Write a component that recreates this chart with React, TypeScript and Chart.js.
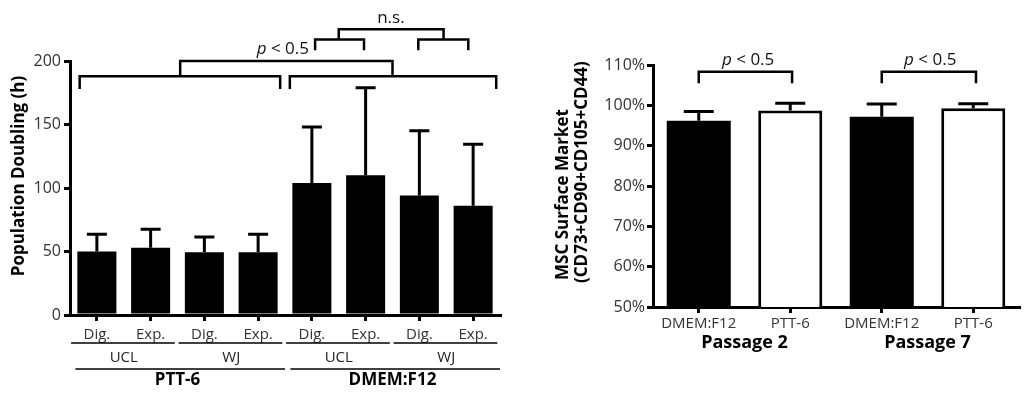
import React, { useEffect, useRef } from "react";
import { Chart, registerables } from "chart.js";

Chart.register(...registerables);

const FONT = "'Open Sans', Lato, 'DejaVu Sans', sans-serif";
const TICK_COLOR = "#333";

// ---------- Left chart: Population Doubling (h) ----------
const pdCategories = ["Dig.", "Exp.", "Dig.", "Exp.", "Dig.", "Exp.", "Dig.", "Exp."];
const pdMeans = [50, 53, 49.5, 49.5, 104, 110, 94, 86];
const pdErrorTop = [63.5, 67.5, 61.5, 63.5, 148, 179, 145, 134.5];
const pdYTicks = [0, 50, 100, 150, 200];
const pdSourceGroups = [
  { label: "UCL", from: 0, to: 1 },
  { label: "WJ", from: 2, to: 3 },
  { label: "UCL", from: 4, to: 5 },
  { label: "WJ", from: 6, to: 7 },
];
const pdMediumGroups = [
  { label: "PTT-6", from: 0, to: 3 },
  { label: "DMEM:F12", from: 4, to: 7 },
];
const pdBrackets = [
  { from: -0.32, to: 3.41, y: 188, leg: 178 },
  { from: 3.59, to: 7.43, y: 188, leg: 178 },
  { from: 1.55, to: 5.5, y: 200, leg: 188 },
  { from: 4.06, to: 4.97, y: 217, leg: 208.5 },
  { from: 5.98, to: 6.91, y: 217, leg: 208.5 },
  { from: 4.5, to: 6.45, y: 225, leg: 217 },
];
const pdNotes = [
  { italic: "p", text: " < 0.5", x: 3.46, y: 209 },
  { italic: "", text: "n.s.", x: 5.47, y: 234 },
];

// ---------- Right chart: MSC surface marker ----------
const msCategories = ["DMEM:F12", "PTT-6", "DMEM:F12", "PTT-6"];
const msMeans = [96.2, 98.7, 97.2, 99.3];
const msErrorTop = [98.5, 100.5, 100.3, 100.4];
const msFill = ["#000", "#fff", "#000", "#fff"];
const msBorder = [0, 3, 0, 3];
const msYTicks = [50, 60, 70, 80, 90, 100, 110];
const msPassageGroups = [
  { label: "Passage 2", from: 0, to: 1 },
  { label: "Passage 7", from: 2, to: 3 },
];
const msBrackets = [
  { from: 0, to: 1.02, y: 108.3, leg: 105.5 },
  { from: 2, to: 3.03, y: 108.3, leg: 105.5 },
];
const msNotes = [
  { italic: "p", text: " < 0.5", x: 0.54, y: 111.2 },
  { italic: "p", text: " < 0.5", x: 2.53, y: 111.2 },
];

type Group = { label: string; from: number; to: number };
type Bracket = { from: number; to: number; y: number; leg: number };
type Note = { italic: string; text: string; x: number; y: number };

function drawErrorBars(chart: any, tops: number[], capHalf: number) {
  const { ctx } = chart;
  const xs = chart.scales.x;
  const ys = chart.scales.y;
  const data = chart.data.datasets[0].data as number[];
  ctx.save();
  ctx.strokeStyle = "#000";
  ctx.lineWidth = 3;
  tops.forEach((t, i) => {
    const x = xs.getPixelForValue(i);
    const yTop = ys.getPixelForValue(t);
    const yBase = ys.getPixelForValue(data[i]);
    ctx.beginPath();
    ctx.moveTo(x, yBase);
    ctx.lineTo(x, yTop);
    ctx.moveTo(x - capHalf, yTop);
    ctx.lineTo(x + capHalf, yTop);
    ctx.stroke();
  });
  ctx.restore();
}

function drawBrackets(chart: any, brackets: Bracket[], lw: number) {
  const { ctx } = chart;
  const xs = chart.scales.x;
  const ys = chart.scales.y;
  ctx.save();
  ctx.strokeStyle = "#000";
  ctx.lineWidth = lw;
  ctx.lineJoin = "miter";
  brackets.forEach((b) => {
    const x1 = xs.getPixelForValue(b.from);
    const x2 = xs.getPixelForValue(b.to);
    const y = ys.getPixelForValue(b.y);
    const yl = ys.getPixelForValue(b.leg);
    ctx.beginPath();
    ctx.moveTo(x1, yl);
    ctx.lineTo(x1, y);
    ctx.lineTo(x2, y);
    ctx.lineTo(x2, yl);
    ctx.stroke();
  });
  ctx.restore();
}

function drawNotes(chart: any, notes: Note[], size: number) {
  const { ctx } = chart;
  const xs = chart.scales.x;
  const ys = chart.scales.y;
  ctx.save();
  ctx.fillStyle = "#111";
  ctx.textBaseline = "middle";
  ctx.textAlign = "left";
  notes.forEach((n) => {
    const italicFont = `italic ${size}px ${FONT}`;
    const normalFont = `${size}px ${FONT}`;
    ctx.font = italicFont;
    const wi = n.italic ? ctx.measureText(n.italic).width : 0;
    ctx.font = normalFont;
    const wt = ctx.measureText(n.text).width;
    const cx = xs.getPixelForValue(n.x);
    const cy = ys.getPixelForValue(n.y);
    let x = cx - (wi + wt) / 2;
    if (n.italic) {
      ctx.font = italicFont;
      ctx.fillText(n.italic, x, cy);
      x += wi;
    }
    ctx.font = normalFont;
    ctx.fillText(n.text, x, cy);
  });
  ctx.restore();
}

function drawGroups(
  chart: any,
  groups: Group[],
  opts: { lineDy: number | null; labelDy: number; padL: number; padR: number; font: string; color: string }
) {
  const { ctx } = chart;
  const xs = chart.scales.x;
  const bottom = chart.chartArea.bottom;
  ctx.save();
  ctx.strokeStyle = "#000";
  ctx.lineWidth = 1.5;
  ctx.fillStyle = opts.color;
  ctx.font = opts.font;
  ctx.textAlign = "center";
  ctx.textBaseline = "middle";
  groups.forEach((g) => {
    if (opts.lineDy !== null) {
      const x1 = xs.getPixelForValue(g.from - opts.padL);
      const x2 = xs.getPixelForValue(g.to + opts.padR);
      ctx.beginPath();
      ctx.moveTo(x1, bottom + opts.lineDy);
      ctx.lineTo(x2, bottom + opts.lineDy);
      ctx.stroke();
    }
    const cx = (xs.getPixelForValue(g.from) + xs.getPixelForValue(g.to)) / 2;
    ctx.fillText(g.label, cx, bottom + opts.labelDy);
  });
  ctx.restore();
}

function drawRotatedTitle(ctx: CanvasRenderingContext2D, text: string, x: number, y: number, align: CanvasTextAlign, font: string) {
  ctx.save();
  ctx.translate(x, y);
  ctx.rotate(-Math.PI / 2);
  ctx.font = font;
  ctx.fillStyle = "#000";
  ctx.textAlign = align;
  ctx.textBaseline = "middle";
  ctx.fillText(text, 0, 0);
  ctx.restore();
}

function axisCommon(tickLength: number, padding: number, size: number) {
  return {
    grid: { display: true, drawOnChartArea: false, drawTicks: true, tickLength, lineWidth: 3, color: "#000", offset: false },
    border: { display: true, width: 3, color: "#000" },
    ticks: { color: TICK_COLOR, padding, font: { family: FONT, size } },
  };
}

function PopulationChart() {
  const ref = useRef<HTMLCanvasElement | null>(null);
  useEffect(() => {
    if (!ref.current) return;
    const overlay = {
      id: "pdOverlay",
      afterDatasetsDraw(chart: any) {
        drawErrorBars(chart, pdErrorTop, 10);
        drawBrackets(chart, pdBrackets, 2.5);
        drawNotes(chart, pdNotes, 17);
        drawGroups(chart, pdSourceGroups, { lineDy: 28, labelDy: 43, padL: 0.48, padR: 0.45, font: `15px ${FONT}`, color: "#222" });
        drawGroups(chart, pdMediumGroups, { lineDy: 54, labelDy: 65, padL: 0.4, padR: 0.5, font: `bold 17px ${FONT}`, color: "#000" });
        const { chartArea } = chart;
        drawRotatedTitle(chart.ctx, "Population Doubling (h)", chartArea.left - 51, chartArea.top + 115, "center", `bold 17px ${FONT}`);
      },
    };
    const xc = axisCommon(6, 5, 15);
    const yc = axisCommon(6, 3, 16);
    const chart = new Chart(ref.current, {
      type: "bar",
      data: {
        labels: pdCategories,
        datasets: [
          {
            data: pdMeans,
            backgroundColor: "#000",
            borderWidth: 0,
            barPercentage: 0.726,
            categoryPercentage: 1,
          },
        ],
      },
      options: {
        responsive: false,
        animation: false,
        devicePixelRatio: 1,
        layout: { padding: { left: 0, right: 20, top: 61, bottom: 0 } },
        plugins: { legend: { display: false }, tooltip: { enabled: false }, title: { display: false } },
        scales: {
          x: {
            ...xc,
            offset: true,
            afterFit: (s: any) => {
              s.height = 82;
            },
          },
          y: {
            ...yc,
            min: 0,
            max: 200,
            afterBuildTicks: (s: any) => {
              s.ticks = pdYTicks.map((v) => ({ value: v }));
            },
            afterFit: (s: any) => {
              s.width = 70;
            },
          },
        },
      },
      plugins: [overlay],
    } as any);
    return () => chart.destroy();
  }, []);
  return <canvas ref={ref} width={520} height={397} style={{ position: "absolute", left: 0, top: 0 }} />;
}

function SurfaceChart() {
  const ref = useRef<HTMLCanvasElement | null>(null);
  useEffect(() => {
    if (!ref.current) return;
    const overlay = {
      id: "msOverlay",
      afterDatasetsDraw(chart: any) {
        drawErrorBars(chart, msErrorTop, 15);
        drawBrackets(chart, msBrackets, 2.5);
        drawNotes(chart, msNotes, 17);
        drawGroups(chart, msPassageGroups, { lineDy: null, labelDy: 36, padL: 0, padR: 0, font: `bold 18px ${FONT}`, color: "#000" });
        const { chartArea } = chart;
        drawRotatedTitle(chart.ctx, "MSC Surface Market", chartArea.left - 90, chartArea.bottom - 27, "left", `bold 17px ${FONT}`);
        drawRotatedTitle(chart.ctx, "(CD73+CD90+CD105+CD44)", chartArea.left - 71, chartArea.bottom - 24, "left", `bold 17px ${FONT}`);
      },
    };
    const xc = axisCommon(6, 2, 15);
    const yc = axisCommon(6, 2, 16);
    const chart = new Chart(ref.current, {
      type: "bar",
      data: {
        labels: msCategories,
        datasets: [
          {
            data: msMeans,
            backgroundColor: msFill,
            borderColor: "#000",
            borderWidth: msBorder,
            borderSkipped: "start",
            barPercentage: 0.7,
            categoryPercentage: 1,
          },
        ],
      },
      options: {
        responsive: false,
        animation: false,
        devicePixelRatio: 1,
        layout: { padding: { left: 0, right: 5, top: 65, bottom: 0 } },
        plugins: { legend: { display: false }, tooltip: { enabled: false }, title: { display: false } },
        scales: {
          x: {
            ...xc,
            offset: true,
            afterFit: (s: any) => {
              s.height = 90;
            },
          },
          y: {
            ...yc,
            min: 50,
            max: 110,
            ticks: { ...yc.ticks, callback: (v: any) => `${v}%` },
            afterBuildTicks: (s: any) => {
              s.ticks = msYTicks.map((v) => ({ value: v }));
            },
            afterFit: (s: any) => {
              s.width = 133;
            },
          },
        },
      },
      plugins: [overlay],
    } as any);
    return () => chart.destroy();
  }, []);
  return <canvas ref={ref} width={504} height={397} style={{ position: "absolute", left: 520, top: 0 }} />;
}

export default function App() {
  return (
    <div style={{ position: "absolute", left: 0, top: 0, width: 1024, height: 397, background: "#fff", overflow: "hidden" }}>
      <PopulationChart />
      <SurfaceChart />
    </div>
  );
}
